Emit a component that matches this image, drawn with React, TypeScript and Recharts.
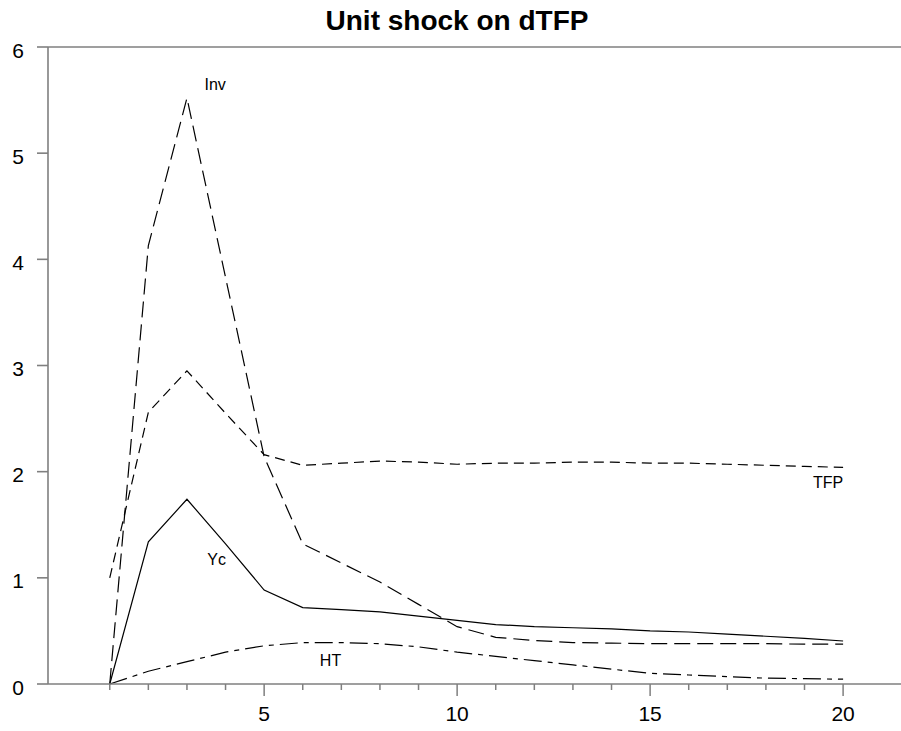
import { LineChart, Line, XAxis, YAxis, ReferenceLine, ReferenceDot } from "recharts"

const periods = [1, 2, 3, 4, 5, 6, 7, 8, 9, 10, 11, 12, 13, 14, 15, 16, 17, 18, 19, 20]
const inv = [0, 4.13, 5.52, 3.83, 2.14, 1.32, 1.14, 0.96, 0.75, 0.54, 0.44, 0.41, 0.39, 0.385, 0.38, 0.38, 0.38, 0.38, 0.375, 0.375]
const tfp = [1.0, 2.56, 2.95, 2.55, 2.16, 2.06, 2.08, 2.1, 2.09, 2.07, 2.08, 2.08, 2.09, 2.09, 2.08, 2.08, 2.07, 2.06, 2.05, 2.04]
const yc = [0, 1.34, 1.74, 1.32, 0.885, 0.72, 0.7, 0.68, 0.64, 0.6, 0.56, 0.54, 0.53, 0.52, 0.5, 0.49, 0.47, 0.45, 0.43, 0.405]
const ht = [0, 0.12, 0.21, 0.3, 0.36, 0.39, 0.39, 0.38, 0.35, 0.3, 0.26, 0.22, 0.18, 0.14, 0.1, 0.085, 0.07, 0.055, 0.05, 0.045]

const xMajor = [5, 10, 15, 20]
const yTicks = [0, 1, 2, 3, 4, 5, 6]

// series labels placed in data coordinates
const seriesLabels = [
  { name: "Inv", x: 3.73, y: 5.645 },
  { name: "TFP", x: 19.61, y: 1.9 },
  { name: "Yc", x: 3.77, y: 1.177 },
  { name: "HT", x: 6.72, y: 0.219 },
]

const data = periods.map((t, i) => ({ t, inv: inv[i], tfp: tfp[i], yc: yc[i], ht: ht[i] }))

const AXIS = "#7f7f7f"

function XTick(props: any) {
  const { x, y, payload } = props
  const major = xMajor.includes(payload.value)
  return (
    <g>
      <line x1={x} x2={x} y1={y} y2={y + (major ? 12 : 6)} stroke={AXIS} strokeWidth={1.5} />
      {major && (
        <text x={x} y={y + 22} dy="0.71em" textAnchor="middle" fontSize={21} fill="#000">
          {payload.value}
        </text>
      )}
    </g>
  )
}

function YTick(props: any) {
  const { x, y, payload } = props
  return (
    <text x={x} y={y} dy="0.5em" textAnchor="end" fontSize={21} fill="#000">
      {payload.value}
    </text>
  )
}

export default function App() {
  return (
    <div style={{ position: "relative", width: 901, height: 731, fontFamily: "'Liberation Sans', Arial, sans-serif" }}>
      <style>{`body{margin:0}`}</style>
      <div
        style={{
          position: "absolute",
          top: 7,
          left: 0,
          width: 914,
          textAlign: "center",
          fontSize: 28,
          lineHeight: 1,
          fontWeight: "bold",
        }}
      >
        Unit shock on dTFP
      </div>
      <LineChart width={901} height={731} data={data} margin={{ top: 47, right: 0, bottom: 0, left: 0 }}>
        <XAxis
          dataKey="t"
          type="number"
          domain={[-0.6, 21.5]}
          ticks={periods}
          interval={0}
          height={47}
          tickSize={0}
          tickMargin={0}
          tickLine={false}
          axisLine={{ stroke: AXIS, strokeWidth: 1.6 }}
          tick={<XTick />}
        />
        <YAxis
          type="number"
          domain={[0, 6]}
          ticks={yTicks}
          width={48}
          tickSize={11}
          tickMargin={13}
          axisLine={{ stroke: AXIS, strokeWidth: 1.6 }}
          tickLine={{ stroke: AXIS, strokeWidth: 1.6 }}
          tick={<YTick />}
        />
        <ReferenceLine y={6} stroke={AXIS} strokeWidth={1.6} />
        <Line type="linear" dataKey="inv" stroke="#000" strokeWidth={1.2} strokeDasharray="16 7" dot={false} isAnimationActive={false} />
        <Line type="linear" dataKey="tfp" stroke="#000" strokeWidth={1.2} strokeDasharray="10 6" dot={false} isAnimationActive={false} />
        <Line type="linear" dataKey="yc" stroke="#000" strokeWidth={1.2} dot={false} isAnimationActive={false} />
        <Line type="linear" dataKey="ht" stroke="#000" strokeWidth={1.2} strokeDasharray="18 6 5 6" dot={false} isAnimationActive={false} />
        {seriesLabels.map((l) => (
          <ReferenceDot
            key={l.name}
            x={l.x}
            y={l.y}
            r={0}
            fill="none"
            stroke="none"
            label={{ value: l.name, position: "center", fontSize: 16, fill: "#000" }}
          />
        ))}
      </LineChart>
    </div>
  )
}
